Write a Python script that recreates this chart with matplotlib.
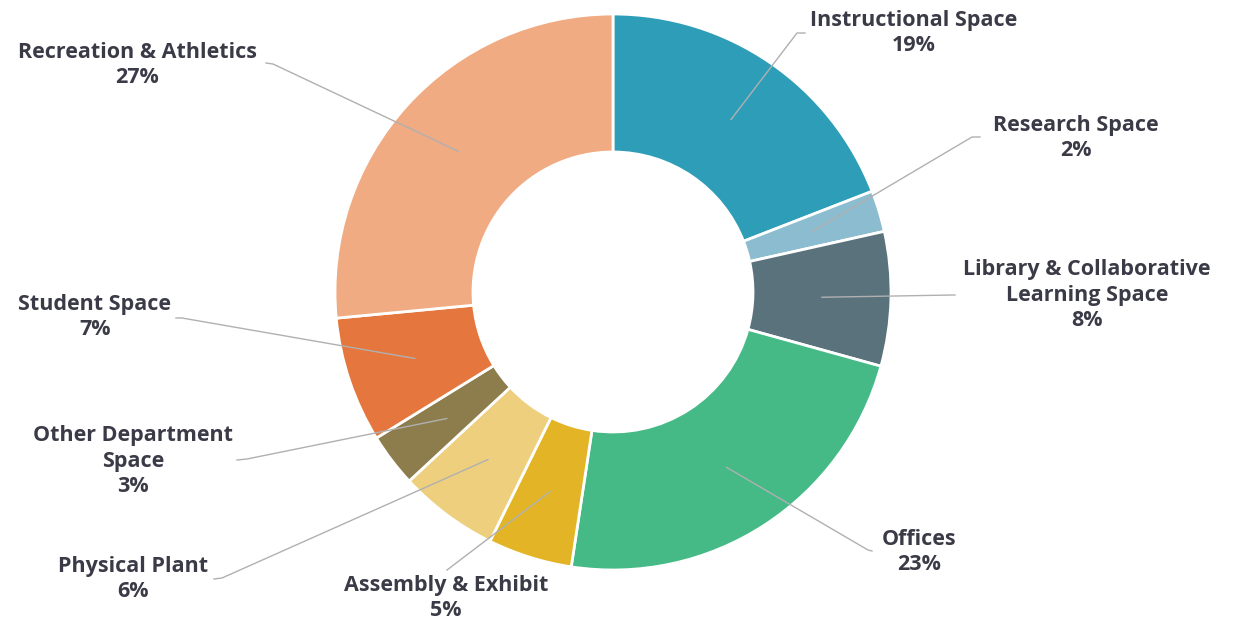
import numpy as np
import matplotlib.pyplot as plt

categories = ["Instructional Space", "Research Space", "Library & Collaborative\nLearning Space",
              "Offices", "Assembly & Exhibit", "Physical Plant", "Other Department\nSpace",
              "Student Space", "Recreation & Athletics"]
shares = [19.1, 2.4, 7.8, 23.1, 4.9, 5.8, 3.1, 7.3, 26.5]
pct_labels = [19, 2, 8, 23, 5, 6, 3, 7, 27]
colors = ["#2e9db8", "#8bbccf", "#5a727c", "#45ba87", "#e3b526",
          "#edcf7e", "#8e7d4c", "#e5763d", "#f0ab82"]

W, H = 1237, 623
cx, cy = 613, 292          # donut centre (pixels, from top)
r_out, r_in = 278, 140

# label centre, elbow point, end of leader line (pixels, from top)
label_pos = [(914, 33), (1076, 138), (1087, 295), (919, 552), (446, 598),
             (133, 579), (133, 461), (95, 317), (137, 65)]
elbow = [(797, 33), (972, 137), (953, 295), (868, 550), (447, 570),
         (222, 578), (247, 459), (182, 318), (273, 64)]
line_end = [(805, 33), (980, 137), (955, 295), (872, 551), (447, 570),
            (214, 579), (237, 460), (176, 318), (266, 63)]

fig = plt.figure(figsize=(W / 100, H / 100), dpi=100)
ax = fig.add_axes([0, 0, 1, 1])

wedges, _ = ax.pie(shares, colors=colors, startangle=90, counterclock=False,
                   center=(cx, H - cy), radius=r_out,
                   wedgeprops=dict(width=r_out - r_in, edgecolor="white", linewidth=2))
ax.set_xlim(0, W)
ax.set_ylim(0, H)
ax.set_aspect("equal")
ax.axis("off")

r_mid = (r_out + r_in) / 2
for w, name, pct, (lx, ly), (ex, ey), (fx, fy) in zip(wedges, categories, pct_labels,
                                                      label_pos, elbow, line_end):
    ang = np.deg2rad((w.theta1 + w.theta2) / 2)
    sx = cx + r_mid * np.cos(ang)
    sy = H - cy + r_mid * np.sin(ang)
    ax.plot([sx, ex, fx], [sy, H - ey, H - fy], color="#b0b0b0", lw=1, zorder=3)
    ax.text(lx, H - ly, f"{name}\n{pct}%", ha="center", va="center",
            fontsize=15.5, fontweight="bold", family="Open Sans", color="#3b3b48",
            linespacing=1.3)

fig.savefig("out.png", dpi=100, facecolor="white")
